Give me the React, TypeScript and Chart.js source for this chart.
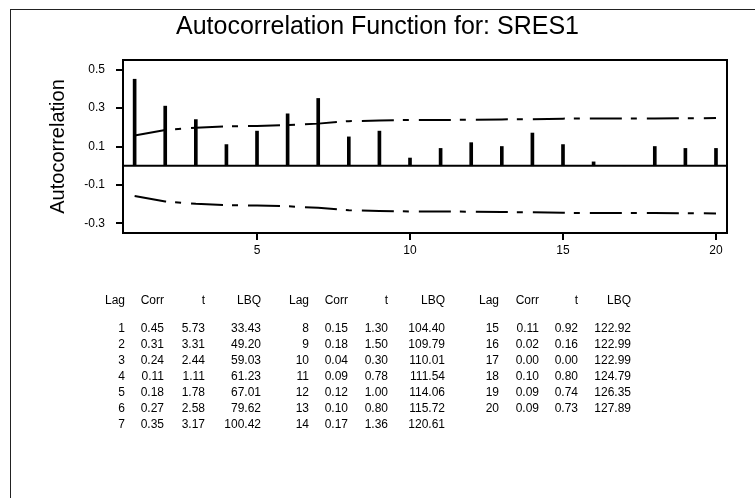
import { useEffect, useRef } from "react";
import { Chart, registerables } from "chart.js";

Chart.register(...registerables);

// ACF of standardized residuals, lags 1..20
const lags = [1, 2, 3, 4, 5, 6, 7, 8, 9, 10, 11, 12, 13, 14, 15, 16, 17, 18, 19, 20];
const corr = [0.45, 0.31, 0.24, 0.11, 0.18, 0.27, 0.35, 0.15, 0.18, 0.04, 0.09, 0.12, 0.1, 0.17, 0.11, 0.02, 0.0, 0.1, 0.09, 0.09];
const tStats = [5.73, 3.31, 2.44, 1.11, 1.78, 2.58, 3.17, 1.3, 1.5, 0.3, 0.78, 1.0, 0.8, 1.36, 0.92, 0.16, 0.0, 0.8, 0.74, 0.73];
const lbq = [33.43, 49.2, 59.03, 61.23, 67.01, 79.62, 100.42, 104.4, 109.79, 110.01, 111.54, 114.06, 115.72, 120.61, 122.92, 122.99, 122.99, 124.79, 126.35, 127.89];

// 5% significance limits
const upperLimit = [0.157, 0.186, 0.198, 0.205, 0.207, 0.211, 0.219, 0.232, 0.235, 0.238, 0.238, 0.239, 0.241, 0.242, 0.245, 0.246, 0.246, 0.246, 0.247, 0.248];
const lowerLimit = [-0.157, -0.186, -0.198, -0.205, -0.207, -0.211, -0.219, -0.232, -0.235, -0.238, -0.238, -0.239, -0.241, -0.242, -0.245, -0.246, -0.246, -0.246, -0.247, -0.248];

const yTicks = [-0.3, -0.1, 0.1, 0.3, 0.5];
const xTicks = [5, 10, 15, 20];

const titleText = "Autocorrelation Function for: SRES1";
const yTitle = "Autocorrelation";
const headers = ["Lag", "Corr", "t", "LBQ"];

const FONT = "'Liberation Sans', Arial, Helvetica, sans-serif";
const LIMIT_DASH = [32, 9, 6, 10];

// right edges of the four columns in each of the three table blocks
const blockColumns = [
  [125, 164, 205, 261],
  [309, 348, 388, 445],
  [499, 539, 578, 631],
];
const rowsPerBlock = 7;

const plotFrame = {
  id: "plotFrame",
  beforeDatasetsDraw(chart: any) {
    const { ctx, chartArea, scales } = chart;
    const y0 = scales.y.getPixelForValue(0);
    ctx.save();
    ctx.strokeStyle = "#000";
    ctx.lineWidth = 2;
    ctx.beginPath();
    ctx.moveTo(chartArea.left, y0);
    ctx.lineTo(chartArea.right, y0);
    ctx.stroke();
    ctx.restore();
  },
  afterDraw(chart: any) {
    const { ctx, chartArea } = chart;
    ctx.save();
    ctx.strokeStyle = "#000";
    ctx.lineWidth = 2;
    ctx.strokeRect(chartArea.left, chartArea.top, chartArea.right - chartArea.left, chartArea.bottom - chartArea.top);
    ctx.restore();
  },
};

function AcfChart() {
  const ref = useRef<HTMLCanvasElement>(null);
  useEffect(() => {
    if (!ref.current) return;
    const chart = new Chart(ref.current, {
      type: "bar",
      data: {
        datasets: [
          {
            type: "bar",
            data: lags.map((l, i) => ({ x: l, y: corr[i] })),
            backgroundColor: "#000",
            barThickness: 3,
            order: 2,
          } as any,
          {
            type: "line",
            data: lags.map((l, i) => ({ x: l, y: upperLimit[i] })),
            borderColor: "#000",
            borderWidth: 2,
            borderDash: LIMIT_DASH,
            pointRadius: 0,
            tension: 0,
            order: 1,
          },
          {
            type: "line",
            data: lags.map((l, i) => ({ x: l, y: lowerLimit[i] })),
            borderColor: "#000",
            borderWidth: 2,
            borderDash: LIMIT_DASH,
            pointRadius: 0,
            tension: 0,
            order: 1,
          },
        ],
      },
      options: {
        animation: false,
        responsive: false,
        devicePixelRatio: 1,
        layout: { padding: { left: 0, right: 28, top: 60, bottom: 235 } },
        plugins: { legend: { display: false }, tooltip: { enabled: false }, title: { display: false } },
        scales: {
          x: {
            type: "linear",
            min: 0.62,
            max: 20.36,
            offset: false,
            afterBuildTicks: (s: any) => {
              s.ticks = xTicks.map((v) => ({ value: v }));
            },
            afterFit: (s: any) => {
              s.height = 30;
            },
            grid: { offset: false, drawOnChartArea: false, drawTicks: true, tickLength: 7, color: "#000", lineWidth: 2 },
            border: { display: false },
            ticks: { color: "#000", font: { family: FONT, size: 12 }, padding: 3, maxRotation: 0 },
          },
          y: {
            type: "linear",
            min: -0.35,
            max: 0.55,
            afterBuildTicks: (s: any) => {
              s.ticks = yTicks.map((v) => ({ value: v }));
            },
            afterFit: (s: any) => {
              s.width = 123;
            },
            grid: { drawOnChartArea: false, drawTicks: true, tickLength: 7, color: "#000", lineWidth: 2 },
            border: { display: false },
            ticks: {
              color: "#000",
              font: { family: FONT, size: 12 },
              padding: 11,
              callback: (v: any) => Number(v).toFixed(1),
            },
            title: {
              display: true,
              text: yTitle,
              color: "#000",
              font: { family: FONT, size: 20 },
              padding: { top: 46, bottom: 0 },
            },
          },
        },
      },
      plugins: [plotFrame],
    });
    return () => chart.destroy();
  }, []);
  return <canvas ref={ref} width={755} height={498} style={{ position: "absolute", left: 0, top: 0, width: 755, height: 498 }} />;
}

function cell(text: string, right: number, centerY: number, key: string) {
  return (
    <div
      key={key}
      style={{
        position: "absolute",
        left: right - 60,
        width: 60,
        top: centerY - 7,
        height: 14,
        lineHeight: "14px",
        textAlign: "right",
        fontFamily: FONT,
        fontSize: 12,
        color: "#000",
        whiteSpace: "nowrap",
      }}
    >
      {text}
    </div>
  );
}

function AcfTable() {
  const out: any[] = [];
  blockColumns.forEach((cols, b) => {
    headers.forEach((h, c) => out.push(cell(h, cols[c], 300, `h${b}${c}`)));
    for (let r = 0; r < rowsPerBlock; r++) {
      const i = b * rowsPerBlock + r;
      if (i >= lags.length) break;
      const y = 328 + r * 16;
      out.push(cell(String(lags[i]), cols[0], y, `l${i}`));
      out.push(cell(corr[i].toFixed(2), cols[1], y, `c${i}`));
      out.push(cell(tStats[i].toFixed(2), cols[2], y, `t${i}`));
      out.push(cell(lbq[i].toFixed(2), cols[3], y, `q${i}`));
    }
  });
  return <>{out}</>;
}

export default function App() {
  return (
    <div style={{ position: "absolute", left: 0, top: 0, width: 755, height: 498, overflow: "hidden", background: "#fff" }}>
      <div
        style={{
          position: "absolute",
          left: 10,
          top: 9,
          width: 800,
          height: 600,
          borderLeft: "1px solid #222",
          borderTop: "1px solid #222",
        }}
      />
      <AcfChart />
      <div
        style={{
          position: "absolute",
          left: 0,
          width: 755,
          top: 10,
          lineHeight: "30px",
          textAlign: "center",
          fontFamily: FONT,
          fontSize: 25,
          color: "#000",
          whiteSpace: "nowrap",
        }}
      >
        {titleText}
      </div>
      <AcfTable />
    </div>
  );
}
